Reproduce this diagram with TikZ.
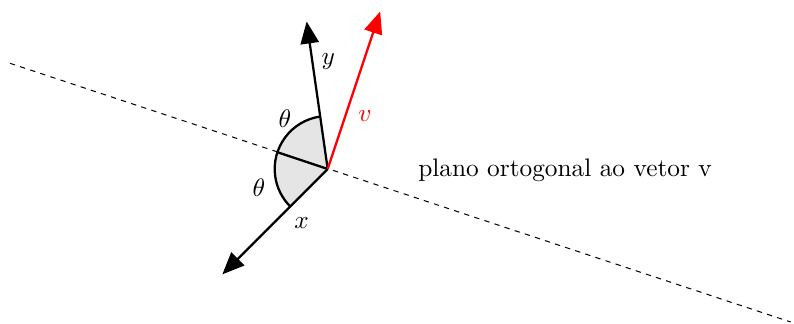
\documentclass[tikz,border=0pt]{standalone}
\usetikzlibrary{arrows.meta}
\begin{document}
\begin{tikzpicture}[x=0.395pt,y=0.395pt,
  axis/.style={line width=0.9pt,-{Triangle[length=8.7pt,width=7.2pt]}},
  edge/.style={line width=0.9pt},
  plane/.style={line width=0.4pt,dash pattern=on 2.1pt off 2.1pt},
  sector/.style={fill=gray!20,draw=none}]
\useasboundingbox (-327.7,-154) rectangle (466.3,169);
\coordinate (O) at (0,0);
\coordinate (L) at (-317.7,105.7);
\coordinate (R) at (463,-153);
\coordinate (V) at (71.57:166);
\coordinate (Y) at (98.13:149);
\coordinate (X) at (225:149);
\coordinate (A1) at (98.13:53);
\coordinate (A2) at (161.57:53);
\draw[plane] (L) -- (R);
\fill[sector] (O) -- (A1) arc[start angle=98.13,end angle=225,radius=53] -- cycle;
\draw[edge] (A1) arc[start angle=98.13,end angle=225,radius=53];
\draw[edge] (O) -- (A2);
\draw[axis] (O) -- (Y);
\draw[axis] (O) -- (X);
\draw[axis,red] (O) -- (V);
\node (tA) at (-42.7,50.7) {$\theta$};
\node (tB) at (-68.7,-18.3) {$\theta$};
\node (lx) at (-26,-54.3) {$x$};
\node (ly) at (0.6,107.3) {$y$};
\node[red] (lv) at (37.3,53) {$v$};
\node (T) at (237.3,-1) {plano ortogonal ao vetor v};
\end{tikzpicture}
\end{document}
